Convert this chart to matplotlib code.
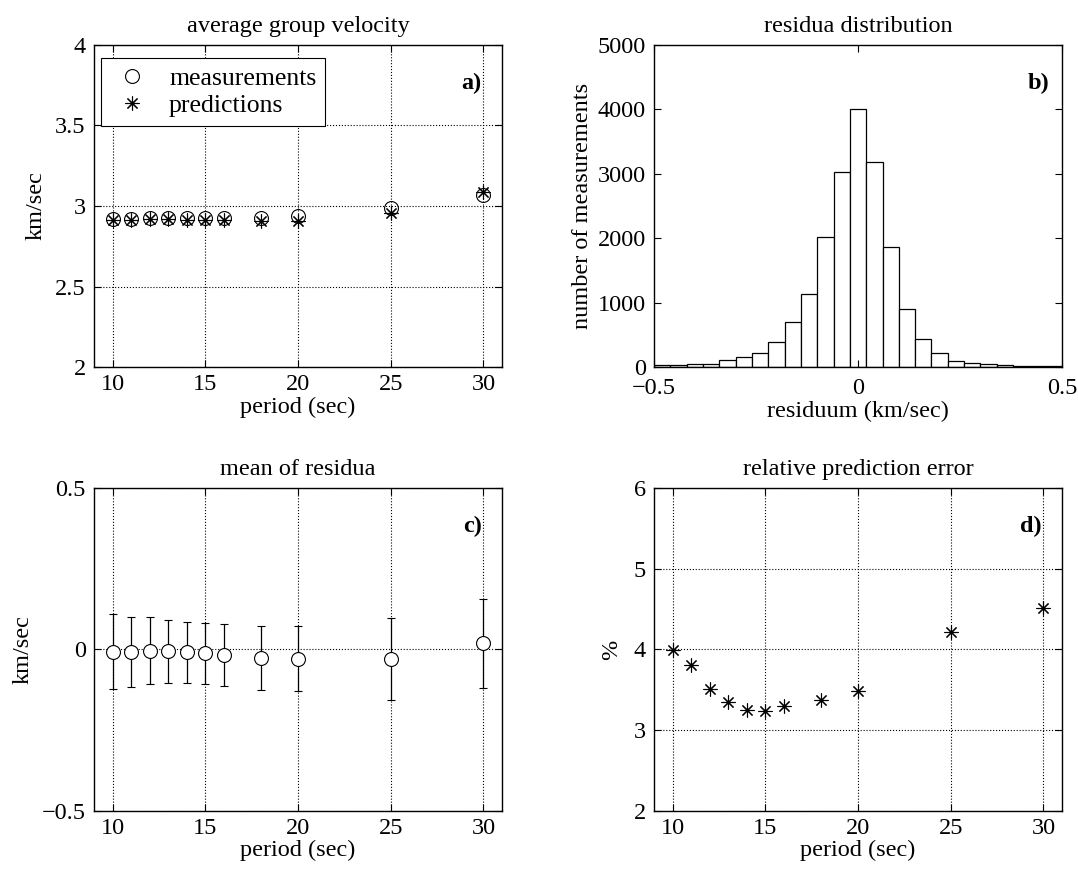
import numpy as np
import matplotlib
matplotlib.use("Agg")
import matplotlib.pyplot as plt

FS = 17.5
plt.rc('font', family='Liberation Serif', size=FS)
plt.rc('axes', linewidth=1.0, titlesize=FS, labelsize=FS)
plt.rc('xtick', direction='in', top=True, labelsize=FS)
plt.rc('ytick', direction='in', right=True, labelsize=FS)
plt.rc('xtick.major', size=5, width=0.8, pad=5)
plt.rc('ytick.major', size=5, width=0.8, pad=6)
plt.rc('grid', color='black', linestyle=':', linewidth=0.8)

# periods (sec)
period = [10, 11, 12, 13, 14, 15, 16, 18, 20, 25, 30]

# a) average group velocity (km/sec)
vel_meas = [2.92, 2.92, 2.925, 2.925, 2.925, 2.925, 2.925, 2.925, 2.935, 2.985, 3.07]
vel_pred = [2.915, 2.915, 2.92, 2.92, 2.915, 2.915, 2.91, 2.905, 2.905, 2.955, 3.085]

# b) residua histogram, bin width 0.04 km/sec
bin_edges = np.round(np.arange(-0.5, 0.5001, 0.04), 3)
counts = [30, 30, 45, 45, 105, 155, 220, 385, 705, 1140, 2025, 3025, 4010,
          3185, 1865, 900, 430, 220, 90, 65, 45, 30, 10, 10, 10]

# c) mean of residua with standard deviation
res_mean = [-0.007, -0.007, -0.004, -0.006, -0.009, -0.012, -0.017, -0.027, -0.029, -0.030, 0.019]
res_std = [0.116, 0.109, 0.103, 0.098, 0.095, 0.095, 0.096, 0.099, 0.101, 0.126, 0.138]

# d) relative prediction error (%)
rel_err = [3.99, 3.81, 3.51, 3.35, 3.255, 3.24, 3.30, 3.38, 3.49, 4.22, 4.51]

star = (8, 2, 0)

fig = plt.figure(figsize=(10.78, 8.77), dpi=100)
ax_a = fig.add_axes([0.0872, 0.5815, 0.3785, 0.3672])
ax_b = fig.add_axes([0.6067, 0.5815, 0.3785, 0.3672])
ax_c = fig.add_axes([0.0872, 0.0753, 0.3785, 0.3683])
ax_d = fig.add_axes([0.6067, 0.0753, 0.3785, 0.3683])

# a)
ax_a.plot(period, vel_meas, linestyle='None', marker='o', markersize=10,
          markerfacecolor='none', markeredgecolor='black', markeredgewidth=0.8,
          label='measurements')
ax_a.plot(period, vel_pred, linestyle='None', marker=star, markersize=10,
          color='black', markeredgewidth=0.8, label='predictions')
ax_a.set_xlim(9, 31)
ax_a.set_ylim(2, 4)
ax_a.set_xticks([10, 15, 20, 25, 30])
ax_a.set_yticks([2, 2.5, 3, 3.5, 4])
ax_a.set_yticklabels(['2', '2.5', '3', '3.5', '4'])
ax_a.grid(True)
ax_a.set_title('average group velocity', pad=9)
ax_a.set_xlabel('period (sec)', labelpad=1)
ax_a.set_ylabel('km/sec', labelpad=6)
leg = ax_a.legend(loc='upper left', bbox_to_anchor=(0.017, 0.96), borderaxespad=0,
                  fancybox=False, edgecolor='black', framealpha=1, borderpad=0.35,
                  handlelength=1.7, handletextpad=0.6, labelspacing=0.15,
                  fontsize=18.5)
leg.get_frame().set_linewidth(0.8)
ax_a.text(0.95, 0.88, 'a)', transform=ax_a.transAxes, ha='right', va='center',
          fontweight='bold', fontsize=FS)

# b)
ax_b.hist(bin_edges[:-1], bins=bin_edges, weights=counts, facecolor='white',
          edgecolor='black', linewidth=0.9)
ax_b.set_xlim(-0.5, 0.5)
ax_b.set_ylim(0, 5000)
ax_b.set_xticks([-0.5, 0, 0.5])
ax_b.set_xticklabels(['\u22120.5', '0', '0.5'])
ax_b.tick_params(axis='x', pad=8)
ax_b.set_yticks([0, 1000, 2000, 3000, 4000, 5000])
ax_b.set_title('residua distribution', pad=9)
ax_b.set_xlabel('residuum (km/sec)', labelpad=1)
ax_b.set_ylabel('number of measurements', labelpad=3)
ax_b.text(0.97, 0.88, 'b)', transform=ax_b.transAxes, ha='right', va='center',
          fontweight='bold', fontsize=FS)

# c)
ax_c.errorbar(period, res_mean, yerr=res_std, linestyle='None', marker='o',
              markersize=10, markerfacecolor='white', markeredgecolor='black',
              markeredgewidth=0.8, ecolor='black', elinewidth=0.9, capsize=3,
              capthick=0.9)
ax_c.set_xlim(9, 31)
ax_c.set_ylim(-0.5, 0.5)
ax_c.set_xticks([10, 15, 20, 25, 30])
ax_c.set_yticks([-0.5, 0, 0.5])
ax_c.set_yticklabels(['\u22120.5', '0', '0.5'])
ax_c.grid(True)
ax_c.set_title('mean of residua', pad=9)
ax_c.set_xlabel('period (sec)', labelpad=1)
ax_c.set_ylabel('km/sec', labelpad=6)
ax_c.text(0.95, 0.88, 'c)', transform=ax_c.transAxes, ha='right', va='center',
          fontweight='bold', fontsize=FS)

# d)
ax_d.plot(period, rel_err, linestyle='None', marker=star, markersize=10,
          color='black', markeredgewidth=0.8)
ax_d.set_xlim(9, 31)
ax_d.set_ylim(2, 6)
ax_d.set_xticks([10, 15, 20, 25, 30])
ax_d.set_yticks([2, 3, 4, 5, 6])
ax_d.grid(True)
ax_d.set_title('relative prediction error', pad=9)
ax_d.set_xlabel('period (sec)', labelpad=1)
ax_d.set_ylabel('%', labelpad=8)
ax_d.text(0.95, 0.88, 'd)', transform=ax_d.transAxes, ha='right', va='center',
          fontweight='bold', fontsize=FS)

fig.savefig('out.png', dpi=100)
